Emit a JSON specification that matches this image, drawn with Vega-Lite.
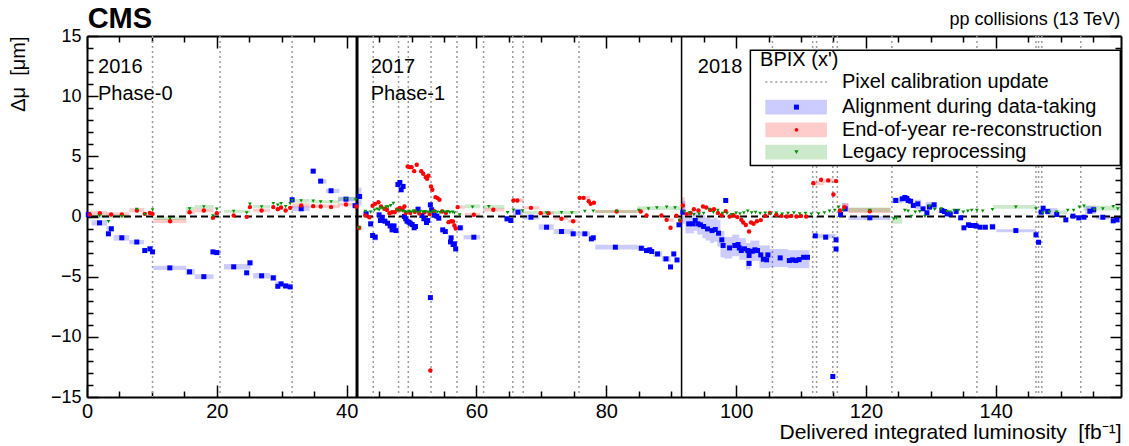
{
"$schema":"https://vega.github.io/schema/vega-lite/v6.json",
"width":1034,"height":361,
"autosize":{"type":"none"},
"padding":{"left":87,"top":36,"right":8,"bottom":49},
"background":"white",
"config":{"view":{"stroke":null},"font":"Liberation Sans","axis":{"grid":false,"domainColor":"black","tickColor":"black","labelColor":"black","titleColor":"black","labelFont":"Liberation Sans","titleFont":"Liberation Sans"}},
"datasets":{
"calib":[{"x":10.1},{"x":20.5},{"x":31.6},{"x":44.1},{"x":48.0},{"x":49.5},{"x":53.0},{"x":57.0},{"x":61.1},{"x":65.6},{"x":67.2},{"x":75.8},{"x":105.6},{"x":111.8},{"x":112.4},{"x":114.9},{"x":115.6},{"x":124.0},{"x":137.1},{"x":146.2},{"x":146.6},{"x":147.1},{"x":153.1}],
"box":[
{"s":"A","x1":0.7,"x2":3.1,"lo":-0.75,"hi":-0.3},{"s":"A","x1":3.0,"x2":4.1,"lo":-1.25,"hi":-0.8},{"s":"A","x1":4.1,"x2":6.5,"lo":-2.0,"hi":-1.55},{"s":"A","x1":6.5,"x2":8.8,"lo":-2.3,"hi":-1.95},{"s":"A","x1":9.3,"x2":10.1,"lo":-2.9,"hi":-2.45},{"s":"A","x1":10.25,"x2":15.3,"lo":-4.45,"hi":-4.1},{"s":"A","x1":15.2,"x2":16.6,"lo":-4.85,"hi":-4.35},{"s":"A","x1":16.6,"x2":19.5,"lo":-5.2,"hi":-4.8},{"s":"A","x1":19.2,"x2":20.6,"lo":-3.2,"hi":-2.8},{"s":"A","x1":21.1,"x2":25.2,"lo":-4.4,"hi":-3.95},{"s":"A","x1":24.8,"x2":25.6,"lo":-4.05,"hi":-3.65},{"s":"A","x1":25.6,"x2":28.2,"lo":-5.15,"hi":-4.7},{"s":"A","x1":28.2,"x2":29.2,"lo":-5.35,"hi":-4.85},{"s":"A","x1":29.0,"x2":30.3,"lo":-5.9,"hi":-5.4},{"s":"A","x1":30.2,"x2":31.3,"lo":-6.0,"hi":-5.55},{"s":"A","x1":31.6,"x2":34.3,"lo":0.45,"hi":0.85},{"s":"A","x1":34.4,"x2":35.3,"lo":3.6,"hi":3.95},{"s":"A","x1":35.7,"x2":36.9,"lo":2.75,"hi":3.1},{"s":"A","x1":36.8,"x2":38.9,"lo":1.95,"hi":2.3},{"s":"A","x1":38.7,"x2":41.4,"lo":1.25,"hi":1.65},
{"s":"A","x1":41.5,"x2":42.3,"lo":0.9,"hi":2.4},{"s":"A","x1":42.6,"x2":43.4,"lo":0.0,"hi":0.5},{"s":"A","x1":43.4,"x2":43.9,"lo":-0.9,"hi":-0.4},{"s":"A","x1":43.9,"x2":44.8,"lo":-2.0,"hi":-1.45},{"s":"A","x1":57.1,"x2":58.0,"lo":-1.1,"hi":-0.75},{"s":"A","x1":58.0,"x2":60.6,"lo":-1.9,"hi":-1.55},{"s":"A","x1":64.4,"x2":65.6,"lo":-0.45,"hi":0.0},{"s":"A","x1":65.6,"x2":67.1,"lo":0.1,"hi":0.65},{"s":"A","x1":67.1,"x2":69.7,"lo":-0.25,"hi":0.15},{"s":"A","x1":69.6,"x2":71.9,"lo":-1.1,"hi":-0.65},{"s":"A","x1":71.9,"x2":75.0,"lo":-1.45,"hi":-1.05},{"s":"A","x1":75.0,"x2":77.5,"lo":-1.6,"hi":-1.25},{"s":"A","x1":78.3,"x2":84.8,"lo":-2.75,"hi":-2.35},{"s":"A","x1":84.8,"x2":85.9,"lo":-2.85,"hi":-2.4},{"s":"A","x1":87.2,"x2":88.6,"lo":-3.35,"hi":-2.9},{"s":"A","x1":88.6,"x2":89.9,"lo":-3.75,"hi":-3.3},{"s":"A","x1":90.2,"x2":90.7,"lo":-3.35,"hi":-2.9},
{"s":"A","x1":91.6,"x2":92.2,"lo":-0.6,"hi":1.3},{"s":"A","x1":92.2,"x2":93.0,"lo":-1.4,"hi":0.1},{"s":"A","x1":93.0,"x2":93.5,"lo":-1.4,"hi":0.1},{"s":"A","x1":93.5,"x2":94.0,"lo":-1.2,"hi":0.4},{"s":"A","x1":94.0,"x2":94.8,"lo":-1.5,"hi":0.2},{"s":"A","x1":94.8,"x2":95.3,"lo":-1.8,"hi":0.1},{"s":"A","x1":95.3,"x2":96.0,"lo":-2.0,"hi":-0.1},{"s":"A","x1":96.0,"x2":96.6,"lo":-2.2,"hi":-0.2},{"s":"A","x1":96.6,"x2":97.1,"lo":-2.1,"hi":-0.1},{"s":"A","x1":97.1,"x2":97.6,"lo":-2.5,"hi":-0.3},{"s":"A","x1":97.6,"x2":98.2,"lo":-3.4,"hi":-1.2},{"s":"A","x1":98.2,"x2":99.4,"lo":-3.5,"hi":-1.7},{"s":"A","x1":99.4,"x2":100.5,"lo":-3.3,"hi":-1.5},{"s":"A","x1":100.5,"x2":101.5,"lo":-3.6,"hi":-1.8},{"s":"A","x1":101.5,"x2":102.2,"lo":-4.4,"hi":-2.2},{"s":"A","x1":102.2,"x2":103.6,"lo":-3.7,"hi":-2.0},{"s":"A","x1":103.6,"x2":105.2,"lo":-4.3,"hi":-2.4},{"s":"A","x1":105.2,"x2":108.0,"lo":-4.2,"hi":-2.7},{"s":"A","x1":108.0,"x2":111.3,"lo":-4.3,"hi":-2.8},{"s":"A","x1":112.0,"x2":115.3,"lo":-1.8,"hi":-1.45},{"s":"A","x1":116.3,"x2":117.3,"lo":0.4,"hi":1.1},{"s":"A","x1":117.3,"x2":123.8,"lo":-0.3,"hi":0.05},{"s":"A","x1":124.0,"x2":125.6,"lo":1.1,"hi":1.6},{"s":"A","x1":127.5,"x2":128.5,"lo":0.6,"hi":1.4},{"s":"A","x1":129.2,"x2":131.0,"lo":0.6,"hi":1.2},{"s":"A","x1":139.0,"x2":140.0,"lo":-1.1,"hi":-0.6},{"s":"A","x1":140.1,"x2":146.2,"lo":-1.3,"hi":-1.05},{"s":"A","x1":147.8,"x2":149.5,"lo":0.1,"hi":0.7},{"s":"A","x1":153.8,"x2":155.4,"lo":0.2,"hi":0.9},{"s":"A","x1":155.4,"x2":157.5,"lo":-0.25,"hi":0.1},
{"s":"E","x1":0.3,"x2":3.1,"lo":0.05,"hi":0.45},{"s":"E","x1":3.0,"x2":6.5,"lo":0.0,"hi":0.35},{"s":"E","x1":6.5,"x2":8.8,"lo":0.35,"hi":0.7},{"s":"E","x1":10.25,"x2":15.3,"lo":-0.55,"hi":-0.2},{"s":"E","x1":15.2,"x2":16.6,"lo":0.2,"hi":0.5},{"s":"E","x1":16.6,"x2":19.5,"lo":0.35,"hi":0.65},{"s":"E","x1":25.6,"x2":28.2,"lo":0.35,"hi":0.65},{"s":"E","x1":31.6,"x2":34.3,"lo":0.75,"hi":1.1},{"s":"E","x1":34.4,"x2":38.9,"lo":0.7,"hi":1.0},{"s":"E","x1":38.7,"x2":41.4,"lo":0.85,"hi":1.15},{"s":"E","x1":41.5,"x2":42.3,"lo":-1.15,"hi":-0.75},
{"s":"E","x1":56.9,"x2":58.2,"lo":0.64,"hi":0.92},{"s":"E","x1":58.2,"x2":60.6,"lo":0.0,"hi":0.3},{"s":"E","x1":61.0,"x2":64.3,"lo":0.42,"hi":0.7},{"s":"E","x1":65.6,"x2":67.3,"lo":1.2,"hi":1.5},{"s":"E","x1":67.3,"x2":69.7,"lo":0.6,"hi":0.85},{"s":"E","x1":69.7,"x2":71.9,"lo":0.15,"hi":0.4},{"s":"E","x1":71.9,"x2":74.1,"lo":-0.3,"hi":-0.05},{"s":"E","x1":74.1,"x2":75.6,"lo":-0.5,"hi":-0.25},{"s":"E","x1":75.6,"x2":77.5,"lo":1.4,"hi":1.7},{"s":"E","x1":78.3,"x2":84.8,"lo":0.3,"hi":0.55},{"s":"E","x1":84.8,"x2":85.9,"lo":0.3,"hi":0.55},{"s":"E","x1":89.6,"x2":90.4,"lo":-0.45,"hi":-0.15},
{"s":"E","x1":91.6,"x2":92.1,"lo":0.25,"hi":1.6},{"s":"E","x1":111.8,"x2":113.5,"lo":2.6,"hi":3.0},{"s":"E","x1":113.5,"x2":115.4,"lo":2.8,"hi":3.15},{"s":"E","x1":116.3,"x2":117.3,"lo":0.4,"hi":1.1},{"s":"E","x1":117.3,"x2":123.8,"lo":0.3,"hi":0.7},
{"s":"L","x1":0.7,"x2":6.5,"lo":-0.15,"hi":0.15},{"s":"L","x1":10.25,"x2":15.3,"lo":-0.3,"hi":0.0},{"s":"L","x1":15.2,"x2":16.6,"lo":0.5,"hi":0.8},{"s":"L","x1":16.6,"x2":19.5,"lo":0.65,"hi":0.95},{"s":"L","x1":21.1,"x2":25.2,"lo":0.3,"hi":0.55},{"s":"L","x1":25.6,"x2":28.2,"lo":0.7,"hi":0.95},{"s":"L","x1":31.6,"x2":34.3,"lo":1.15,"hi":1.45},{"s":"L","x1":34.4,"x2":38.9,"lo":1.1,"hi":1.35},{"s":"L","x1":38.7,"x2":41.4,"lo":1.3,"hi":1.6},{"s":"L","x1":41.5,"x2":42.3,"lo":-1.15,"hi":-0.75},
{"s":"L","x1":58.2,"x2":60.6,"lo":0.7,"hi":1.0},{"s":"L","x1":61.0,"x2":64.3,"lo":0.65,"hi":0.95},{"s":"L","x1":67.3,"x2":75.6,"lo":0.2,"hi":0.45},{"s":"L","x1":78.3,"x2":84.8,"lo":0.3,"hi":0.55},{"s":"L","x1":84.8,"x2":91.4,"lo":0.55,"hi":0.85},
{"s":"L","x1":117.3,"x2":123.8,"lo":0.35,"hi":0.75},{"s":"L","x1":124.0,"x2":125.6,"lo":-0.6,"hi":0.0},{"s":"L","x1":139.6,"x2":146.2,"lo":0.65,"hi":0.95},{"s":"L","x1":149.0,"x2":151.0,"lo":0.2,"hi":0.5},{"s":"L","x1":153.5,"x2":159.3,"lo":0.5,"hi":0.9}
],
"pts":[
{"s":"A","x":0.2,"y":0.16},{"s":"A","x":1.93,"y":-0.53},{"s":"A","x":3.3,"y":-1.44},{"s":"A","x":3.75,"y":-1.02},{"s":"A","x":5.36,"y":-1.77},{"s":"A","x":7.67,"y":-2.12},{"s":"A","x":8.9,"y":-2.83},{"s":"A","x":9.7,"y":-2.69},{"s":"A","x":10.1,"y":-2.94},{"s":"A","x":12.76,"y":-4.27},{"s":"A","x":15.8,"y":-4.6},{"s":"A","x":18.0,"y":-5.0},{"s":"A","x":19.4,"y":-2.94},{"s":"A","x":20.0,"y":-3.0},{"s":"A","x":22.6,"y":-4.18},{"s":"A","x":24.6,"y":-4.68},{"s":"A","x":25.1,"y":-3.85},{"s":"A","x":26.9,"y":-4.93},{"s":"A","x":28.7,"y":-5.1},{"s":"A","x":29.4,"y":-5.8},{"s":"A","x":29.9,"y":-5.6},{"s":"A","x":30.6,"y":-5.77},{"s":"A","x":31.3,"y":-5.85},{"s":"A","x":31.6,"y":1.39},{"s":"A","x":33.0,"y":0.64},{"s":"A","x":34.85,"y":3.77},{"s":"A","x":36.0,"y":2.94},{"s":"A","x":37.6,"y":2.14},{"s":"A","x":39.9,"y":1.44},{"s":"A","x":41.3,"y":0.9},
{"s":"A","x":42.0,"y":1.66},{"s":"A","x":43.0,"y":0.22},{"s":"A","x":43.7,"y":-0.61},{"s":"A","x":44.0,"y":-1.58},{"s":"A","x":44.4,"y":-1.72},{"s":"A","x":45.0,"y":0.14},{"s":"A","x":45.2,"y":-0.33},{"s":"A","x":45.5,"y":-0.06},{"s":"A","x":45.9,"y":-0.39},{"s":"A","x":46.3,"y":-0.56},{"s":"A","x":46.7,"y":-0.78},{"s":"A","x":47.0,"y":-1.11},{"s":"A","x":47.3,"y":-0.78},{"s":"A","x":47.6,"y":-1.17},{"s":"A","x":47.9,"y":2.66},{"s":"A","x":48.2,"y":2.83},{"s":"A","x":48.4,"y":2.22},{"s":"A","x":48.7,"y":2.5},{"s":"A","x":48.9,"y":0.0},{"s":"A","x":49.1,"y":-0.19},{"s":"A","x":49.3,"y":-0.39},{"s":"A","x":49.6,"y":-0.47},{"s":"A","x":49.8,"y":-0.56},{"s":"A","x":50.1,"y":-0.67},{"s":"A","x":50.4,"y":-0.94},{"s":"A","x":50.6,"y":-0.83},{"s":"A","x":51.0,"y":0.61},{"s":"A","x":51.6,"y":0.08},{"s":"A","x":51.9,"y":-0.19},{"s":"A","x":52.3,"y":-0.5},{"s":"A","x":52.5,"y":-0.33},{"s":"A","x":52.9,"y":0.97},{"s":"A","x":53.1,"y":0.56},{"s":"A","x":53.5,"y":0.14},{"s":"A","x":53.9,"y":0.03},{"s":"A","x":54.2,"y":-0.14},{"s":"A","x":54.8,"y":-1.11},{"s":"A","x":55.2,"y":-1.25},{"s":"A","x":56.0,"y":-2.11},{"s":"A","x":56.1,"y":-1.77},{"s":"A","x":56.4,"y":-2.33},{"s":"A","x":56.6,"y":-2.27},{"s":"A","x":56.8,"y":-2.69},{"s":"A","x":57.5,"y":-0.94},{"s":"A","x":59.6,"y":-1.72},{"s":"A","x":64.7,"y":-0.19},{"s":"A","x":65.3,"y":-0.33},{"s":"A","x":66.4,"y":0.36},{"s":"A","x":68.4,"y":-0.06},{"s":"A","x":70.8,"y":-0.89},{"s":"A","x":73.1,"y":-1.25},{"s":"A","x":74.9,"y":-1.44},{"s":"A","x":76.7,"y":-1.44},{"s":"A","x":77.7,"y":-1.86},{"s":"A","x":78.0,"y":-1.77},{"s":"A","x":81.4,"y":-2.55},{"s":"A","x":85.4,"y":-2.64},{"s":"A","x":86.2,"y":-2.83},{"s":"A","x":86.7,"y":-2.77},{"s":"A","x":87.0,"y":-2.91},{"s":"A","x":87.9,"y":-3.11},{"s":"A","x":89.2,"y":-3.52},{"s":"A","x":89.9,"y":-4.19},{"s":"A","x":90.4,"y":-3.11},{"s":"A","x":90.9,"y":-3.61},{"s":"A","x":91.2,"y":-0.69},{"s":"A","x":52.9,"y":-6.74},
{"s":"A","x":91.8,"y":0.36},{"s":"A","x":92.7,"y":-0.61},{"s":"A","x":93.3,"y":-0.61},{"s":"A","x":93.7,"y":-0.33},{"s":"A","x":94.1,"y":-0.61},{"s":"A","x":94.5,"y":-0.69},{"s":"A","x":95.0,"y":-0.83},{"s":"A","x":95.6,"y":-1.03},{"s":"A","x":96.3,"y":-1.17},{"s":"A","x":96.8,"y":-1.08},{"s":"A","x":97.3,"y":-1.39},{"s":"A","x":97.8,"y":-1.94},{"s":"A","x":98.0,"y":-2.41},{"s":"A","x":98.4,"y":1.33},{"s":"A","x":99.0,"y":-2.61},{"s":"A","x":99.8,"y":-2.41},{"s":"A","x":100.3,"y":-2.33},{"s":"A","x":100.5,"y":-2.61},{"s":"A","x":100.8,"y":-2.83},{"s":"A","x":101.3,"y":-2.69},{"s":"A","x":101.8,"y":-2.83},{"s":"A","x":102.0,"y":-3.24},{"s":"A","x":102.0,"y":-3.9},{"s":"A","x":102.5,"y":-2.89},{"s":"A","x":102.9,"y":-2.77},{"s":"A","x":103.3,"y":-2.83},{"s":"A","x":103.8,"y":-3.19},{"s":"A","x":104.2,"y":-3.55},{"s":"A","x":104.7,"y":-3.6},{"s":"A","x":104.9,"y":-3.19},{"s":"A","x":106.8,"y":-3.44},{"s":"A","x":108.2,"y":-3.66},{"s":"A","x":108.7,"y":-3.6},{"s":"A","x":109.2,"y":-3.66},{"s":"A","x":109.7,"y":-3.58},{"s":"A","x":110.4,"y":-3.39},{"s":"A","x":111.0,"y":-3.39},{"s":"A","x":112.2,"y":-1.61},{"s":"A","x":113.8,"y":-1.72},{"s":"A","x":115.4,"y":-1.94},{"s":"A","x":115.4,"y":-2.7},{"s":"A","x":114.9,"y":-13.3},{"s":"A","x":116.1,"y":0.17},{"s":"A","x":116.8,"y":0.64},{"s":"A","x":120.6,"y":-0.11},{"s":"A","x":124.6,"y":1.33},{"s":"A","x":125.6,"y":1.47},{"s":"A","x":126.0,"y":1.58},{"s":"A","x":126.3,"y":1.5},{"s":"A","x":126.5,"y":1.33},{"s":"A","x":126.9,"y":1.27},{"s":"A","x":127.3,"y":0.92},{"s":"A","x":128.0,"y":1.05},{"s":"A","x":128.8,"y":0.64},{"s":"A","x":129.4,"y":0.31},{"s":"A","x":129.8,"y":0.78},{"s":"A","x":130.5,"y":0.97},{"s":"A","x":131.7,"y":0.5},{"s":"A","x":132.1,"y":0.42},{"s":"A","x":132.5,"y":0.22},{"s":"A","x":133.0,"y":0.2},{"s":"A","x":133.9,"y":0.42},{"s":"A","x":134.6,"y":-0.11},{"s":"A","x":135.1,"y":-0.94},{"s":"A","x":135.8,"y":-0.69},{"s":"A","x":136.1,"y":-0.75},{"s":"A","x":136.8,"y":-0.75},{"s":"A","x":137.0,"y":-0.8},{"s":"A","x":137.6,"y":-0.89},{"s":"A","x":138.4,"y":-0.89},{"s":"A","x":139.5,"y":-0.86},{"s":"A","x":143.1,"y":-1.17},{"s":"A","x":146.2,"y":-1.52},{"s":"A","x":146.6,"y":-2.14},{"s":"A","x":147.0,"y":0.36},{"s":"A","x":147.3,"y":0.69},{"s":"A","x":148.0,"y":0.42},{"s":"A","x":149.4,"y":0.17},{"s":"A","x":150.8,"y":-0.28},{"s":"A","x":151.9,"y":0.03},{"s":"A","x":152.8,"y":-0.11},{"s":"A","x":153.6,"y":-0.06},{"s":"A","x":154.5,"y":0.44},{"s":"A","x":155.1,"y":0.56},{"s":"A","x":156.5,"y":-0.06},{"s":"A","x":158.1,"y":-0.36},{"s":"A","x":158.7,"y":-0.28},
{"s":"E","x":0.43,"y":0.17},{"s":"E","x":1.98,"y":0.28},{"s":"E","x":3.72,"y":0.17},{"s":"E","x":5.37,"y":0.17},{"s":"E","x":7.68,"y":0.5},{"s":"E","x":8.9,"y":0.22},{"s":"E","x":9.68,"y":0.3},{"s":"E","x":10.1,"y":0.22},{"s":"E","x":12.8,"y":-0.39},{"s":"E","x":15.8,"y":0.36},{"s":"E","x":18.0,"y":0.5},{"s":"E","x":19.4,"y":-0.11},{"s":"E","x":20.0,"y":0.28},{"s":"E","x":22.6,"y":0.08},{"s":"E","x":24.6,"y":-0.03},{"s":"E","x":25.1,"y":0.78},{"s":"E","x":26.9,"y":0.5},{"s":"E","x":28.7,"y":0.78},{"s":"E","x":29.4,"y":0.61},{"s":"E","x":29.9,"y":0.75},{"s":"E","x":30.6,"y":0.5},{"s":"E","x":31.3,"y":0.72},{"s":"E","x":33.0,"y":0.92},{"s":"E","x":34.85,"y":0.86},{"s":"E","x":36.0,"y":0.83},{"s":"E","x":37.6,"y":0.78},{"s":"E","x":39.9,"y":1.0},{"s":"E","x":41.5,"y":0.83},{"s":"E","x":41.9,"y":-0.94},
{"s":"E","x":42.9,"y":0.08},{"s":"E","x":43.5,"y":-0.06},{"s":"E","x":44.0,"y":0.9},{"s":"E","x":44.4,"y":1.05},{"s":"E","x":44.9,"y":1.19},{"s":"E","x":45.3,"y":0.83},{"s":"E","x":45.8,"y":0.64},{"s":"E","x":46.2,"y":0.56},{"s":"E","x":46.6,"y":0.28},{"s":"E","x":47.0,"y":0.36},{"s":"E","x":47.4,"y":0.36},{"s":"E","x":47.8,"y":0.58},{"s":"E","x":48.2,"y":0.7},{"s":"E","x":48.6,"y":0.58},{"s":"E","x":48.9,"y":0.83},{"s":"E","x":49.1,"y":0.3},{"s":"E","x":49.4,"y":4.16},{"s":"E","x":49.7,"y":4.1},{"s":"E","x":50.0,"y":4.1},{"s":"E","x":50.4,"y":3.77},{"s":"E","x":50.8,"y":4.3},{"s":"E","x":51.5,"y":3.77},{"s":"E","x":51.8,"y":3.55},{"s":"E","x":52.2,"y":3.27},{"s":"E","x":52.4,"y":3.14},{"s":"E","x":52.6,"y":3.39},{"s":"E","x":53.0,"y":2.5},{"s":"E","x":53.2,"y":2.22},{"s":"E","x":53.7,"y":1.61},{"s":"E","x":54.0,"y":1.53},{"s":"E","x":54.3,"y":1.39},{"s":"E","x":49.8,"y":0.3},{"s":"E","x":50.5,"y":0.4},{"s":"E","x":51.2,"y":0.25},{"s":"E","x":52.0,"y":0.35},{"s":"E","x":52.8,"y":0.2},{"s":"E","x":53.5,"y":0.45},{"s":"E","x":54.7,"y":0.42},{"s":"E","x":55.3,"y":0.3},{"s":"E","x":55.7,"y":-0.47},{"s":"E","x":56.1,"y":-0.39},{"s":"E","x":56.4,"y":-0.42},{"s":"E","x":56.6,"y":-0.75},{"s":"E","x":56.8,"y":-1.0},{"s":"E","x":52.9,"y":-12.8},{"s":"E","x":57.1,"y":0.78},{"s":"E","x":59.6,"y":0.14},{"s":"E","x":62.6,"y":0.56},{"s":"E","x":65.7,"y":1.33},{"s":"E","x":66.3,"y":1.33},{"s":"E","x":68.4,"y":0.72},{"s":"E","x":69.9,"y":0.28},{"s":"E","x":71.1,"y":0.28},{"s":"E","x":73.1,"y":-0.19},{"s":"E","x":74.9,"y":-0.39},{"s":"E","x":75.9,"y":1.55},{"s":"E","x":76.5,"y":1.55},{"s":"E","x":77.3,"y":1.27},{"s":"E","x":77.6,"y":1.05},{"s":"E","x":78.1,"y":1.14},{"s":"E","x":81.6,"y":0.42},{"s":"E","x":85.3,"y":0.42},{"s":"E","x":86.2,"y":0.08},{"s":"E","x":88.5,"y":0.08},{"s":"E","x":89.3,"y":-0.28},{"s":"E","x":89.9,"y":-0.94},{"s":"E","x":90.8,"y":0.06},{"s":"E","x":91.4,"y":-0.33},
{"s":"E","x":91.8,"y":0.92},{"s":"E","x":92.4,"y":0.2},{"s":"E","x":93.0,"y":0.3},{"s":"E","x":93.5,"y":0.6},{"s":"E","x":94.2,"y":0.5},{"s":"E","x":94.9,"y":0.83},{"s":"E","x":95.4,"y":0.75},{"s":"E","x":96.0,"y":0.55},{"s":"E","x":96.6,"y":0.6},{"s":"E","x":97.2,"y":0.3},{"s":"E","x":97.8,"y":0.1},{"s":"E","x":98.4,"y":0.45},{"s":"E","x":99.0,"y":0.0},{"s":"E","x":99.6,"y":0.1},{"s":"E","x":100.2,"y":-0.05},{"s":"E","x":100.8,"y":-0.28},{"s":"E","x":101.1,"y":-0.5},{"s":"E","x":101.5,"y":-0.7},{"s":"E","x":102.0,"y":-1.25},{"s":"E","x":102.3,"y":-0.5},{"s":"E","x":102.7,"y":-0.6},{"s":"E","x":103.2,"y":-0.4},{"s":"E","x":103.8,"y":-0.3},{"s":"E","x":104.5,"y":0.05},{"s":"E","x":105.2,"y":0.3},{"s":"E","x":106.2,"y":0.15},{"s":"E","x":107.0,"y":0.05},{"s":"E","x":107.8,"y":0.0},{"s":"E","x":108.5,"y":0.05},{"s":"E","x":109.3,"y":0.0},{"s":"E","x":110.0,"y":0.05},{"s":"E","x":110.8,"y":0.0},{"s":"E","x":111.9,"y":2.77},{"s":"E","x":113.1,"y":3.05},{"s":"E","x":114.2,"y":3.0},{"s":"E","x":115.4,"y":2.94},{"s":"E","x":115.0,"y":1.83},{"s":"E","x":116.0,"y":0.5},{"s":"E","x":116.7,"y":0.78},{"s":"E","x":120.6,"y":0.44},
{"s":"L","x":1.93,"y":0.06},{"s":"L","x":3.3,"y":-0.42},{"s":"L","x":5.36,"y":0.0},{"s":"L","x":7.67,"y":0.6},{"s":"L","x":8.9,"y":0.17},{"s":"L","x":10.1,"y":0.56},{"s":"L","x":12.8,"y":-0.17},{"s":"L","x":15.8,"y":0.64},{"s":"L","x":18.0,"y":0.81},{"s":"L","x":19.4,"y":0.06},{"s":"L","x":20.0,"y":0.61},{"s":"L","x":22.6,"y":0.42},{"s":"L","x":24.6,"y":0.31},{"s":"L","x":25.1,"y":1.02},{"s":"L","x":26.9,"y":0.81},{"s":"L","x":28.7,"y":1.08},{"s":"L","x":29.4,"y":0.94},{"s":"L","x":29.9,"y":1.06},{"s":"L","x":30.6,"y":0.83},{"s":"L","x":31.3,"y":1.06},{"s":"L","x":31.6,"y":1.33},{"s":"L","x":33.0,"y":1.3},{"s":"L","x":34.85,"y":1.27},{"s":"L","x":36.0,"y":1.22},{"s":"L","x":37.6,"y":1.22},{"s":"L","x":39.9,"y":1.44},{"s":"L","x":41.4,"y":1.39},
{"s":"L","x":41.9,"y":-0.94},{"s":"L","x":42.9,"y":0.42},{"s":"L","x":43.7,"y":0.36},{"s":"L","x":44.3,"y":0.53},{"s":"L","x":44.7,"y":0.61},{"s":"L","x":45.0,"y":0.56},{"s":"L","x":45.3,"y":0.72},{"s":"L","x":45.7,"y":0.64},{"s":"L","x":46.1,"y":0.8},{"s":"L","x":46.4,"y":0.8},{"s":"L","x":46.8,"y":0.9},{"s":"L","x":47.2,"y":1.1},{"s":"L","x":47.8,"y":0.53},{"s":"L","x":48.2,"y":0.45},{"s":"L","x":48.6,"y":0.45},{"s":"L","x":48.9,"y":0.4},{"s":"L","x":49.3,"y":0.36},{"s":"L","x":49.6,"y":0.42},{"s":"L","x":50.0,"y":0.36},{"s":"L","x":50.3,"y":0.44},{"s":"L","x":50.6,"y":0.42},{"s":"L","x":51.0,"y":0.33},{"s":"L","x":51.4,"y":0.42},{"s":"L","x":51.8,"y":0.36},{"s":"L","x":52.1,"y":0.4},{"s":"L","x":52.5,"y":0.36},{"s":"L","x":52.9,"y":0.33},{"s":"L","x":53.3,"y":0.42},{"s":"L","x":53.6,"y":0.4},{"s":"L","x":54.0,"y":0.36},{"s":"L","x":54.4,"y":0.33},{"s":"L","x":54.8,"y":0.42},{"s":"L","x":55.2,"y":0.36},{"s":"L","x":55.6,"y":0.4},{"s":"L","x":55.9,"y":0.33},{"s":"L","x":56.3,"y":0.36},{"s":"L","x":56.6,"y":0.3},{"s":"L","x":57.4,"y":0.14},{"s":"L","x":59.4,"y":0.78},{"s":"L","x":61.9,"y":0.83},{"s":"L","x":64.8,"y":0.33},{"s":"L","x":65.7,"y":0.53},{"s":"L","x":67.1,"y":0.47},{"s":"L","x":70.8,"y":0.3},{"s":"L","x":73.1,"y":0.33},{"s":"L","x":74.7,"y":0.3},{"s":"L","x":76.7,"y":0.42},{"s":"L","x":78.0,"y":0.44},{"s":"L","x":81.6,"y":0.42},{"s":"L","x":85.0,"y":0.5},{"s":"L","x":86.5,"y":0.64},{"s":"L","x":87.8,"y":0.72},{"s":"L","x":89.3,"y":0.78},{"s":"L","x":90.6,"y":0.72},{"s":"L","x":91.3,"y":-0.33},
{"s":"L","x":92.0,"y":0.4},{"s":"L","x":92.8,"y":0.3},{"s":"L","x":93.5,"y":0.15},{"s":"L","x":94.3,"y":0.2},{"s":"L","x":95.0,"y":0.25},{"s":"L","x":95.8,"y":0.6},{"s":"L","x":96.5,"y":0.35},{"s":"L","x":97.2,"y":0.5},{"s":"L","x":97.9,"y":0.25},{"s":"L","x":98.6,"y":0.25},{"s":"L","x":99.3,"y":0.15},{"s":"L","x":100.0,"y":0.28},{"s":"L","x":100.6,"y":0.22},{"s":"L","x":101.2,"y":0.3},{"s":"L","x":101.8,"y":0.45},{"s":"L","x":102.4,"y":0.3},{"s":"L","x":103.0,"y":0.35},{"s":"L","x":103.7,"y":0.25},{"s":"L","x":104.5,"y":0.28},{"s":"L","x":105.3,"y":0.22},{"s":"L","x":106.2,"y":0.28},{"s":"L","x":107.1,"y":0.2},{"s":"L","x":108.0,"y":0.25},{"s":"L","x":108.9,"y":0.3},{"s":"L","x":109.8,"y":0.22},{"s":"L","x":110.7,"y":0.25},{"s":"L","x":111.6,"y":0.2},{"s":"L","x":112.7,"y":0.22},{"s":"L","x":113.6,"y":0.3},{"s":"L","x":114.4,"y":0.45},{"s":"L","x":115.2,"y":0.5},{"s":"L","x":115.8,"y":0.78},{"s":"L","x":116.5,"y":0.5},{"s":"L","x":120.6,"y":0.5},{"s":"L","x":124.3,"y":-0.19},{"s":"L","x":124.7,"y":-0.14},{"s":"L","x":126.0,"y":0.5},{"s":"L","x":126.5,"y":0.45},{"s":"L","x":127.0,"y":0.02},{"s":"L","x":127.6,"y":0.36},{"s":"L","x":128.3,"y":0.4},{"s":"L","x":129.1,"y":0.02},{"s":"L","x":129.8,"y":0.86},{"s":"L","x":130.6,"y":0.6},{"s":"L","x":131.6,"y":0.64},{"s":"L","x":132.5,"y":0.42},{"s":"L","x":133.0,"y":0.36},{"s":"L","x":133.6,"y":0.5},{"s":"L","x":134.3,"y":0.5},{"s":"L","x":135.0,"y":0.36},{"s":"L","x":135.7,"y":0.45},{"s":"L","x":136.3,"y":0.5},{"s":"L","x":137.1,"y":0.5},{"s":"L","x":138.0,"y":0.45},{"s":"L","x":139.5,"y":0.58},{"s":"L","x":143.1,"y":0.78},{"s":"L","x":146.2,"y":0.64},{"s":"L","x":147.3,"y":0.3},{"s":"L","x":148.3,"y":0.36},{"s":"L","x":149.4,"y":0.36},{"s":"L","x":151.1,"y":0.5},{"s":"L","x":152.0,"y":0.5},{"s":"L","x":152.9,"y":0.78},{"s":"L","x":153.6,"y":0.86},{"s":"L","x":155.2,"y":0.56},{"s":"L","x":156.5,"y":0.64},{"s":"L","x":158.1,"y":0.83},{"s":"L","x":158.8,"y":0.64}
]
},
"layer":[
{
"data":{"values":[{}]},
"layer":[
{"data":{"name":"calib"},"mark":{"type":"rule","color":"#9a9a9a","strokeDash":[2,3],"strokeWidth":1.5},"encoding":{"x":{"field":"x","type":"quantitative","scale":{"domain":[0,159.3],"nice":false,"zero":false},"axis":null}}},
{"data":{"name":"box"},"mark":{"type":"rect","fillOpacity":0.2,"strokeWidth":0},"encoding":{"x":{"field":"x1","type":"quantitative","scale":{"domain":[0,159.3],"nice":false,"zero":false},"axis":null},"x2":{"field":"x2"},"y":{"field":"lo","type":"quantitative","scale":{"domain":[-15,15],"nice":false,"zero":false},"axis":null},"y2":{"field":"hi"},"color":{"field":"s","type":"nominal","scale":{"domain":["A","E","L"],"range":["#0000ff","#ff0000","#009000"]},"legend":null}}},
{"mark":{"type":"rule","color":"black","strokeDash":[7,4],"strokeWidth":2},"encoding":{"y":{"datum":0,"type":"quantitative","scale":{"domain":[-15,15],"nice":false,"zero":false},"axis":null}}},
{"mark":{"type":"rule","color":"black","strokeWidth":3},"encoding":{"x":{"datum":41.6,"type":"quantitative","scale":{"domain":[0,159.3],"nice":false,"zero":false},"axis":null}}},
{"mark":{"type":"rule","color":"black","strokeWidth":1.5},"encoding":{"x":{"datum":91.6,"type":"quantitative","scale":{"domain":[0,159.3],"nice":false,"zero":false},"axis":null}}},
{"data":{"name":"pts"},"mark":{"type":"point","filled":true,"opacity":1,"strokeWidth":0},"encoding":{"x":{"field":"x","type":"quantitative","scale":{"domain":[0,159.3],"nice":false,"zero":false},"axis":null},"y":{"field":"y","type":"quantitative","scale":{"domain":[-15,15],"nice":false,"zero":false},"axis":null},"color":{"field":"s","type":"nominal","scale":{"domain":["A","E","L"],"range":["#0000ff","#ff0000","#009000"]},"legend":null},"shape":{"field":"s","type":"nominal","scale":{"domain":["A","E","L"],"range":["square","circle","triangle-down"]},"legend":null},"size":{"field":"s","type":"nominal","scale":{"domain":["A","E","L"],"range":[25,14,18]},"legend":null}}},
{"mark":{"type":"rect","fill":"white","stroke":"black","strokeWidth":1.5},"encoding":{"x":{"datum":102.2,"type":"quantitative","scale":{"domain":[0,159.3],"nice":false,"zero":false},"axis":null},"x2":{"datum":159.2},"y":{"datum":4.24,"type":"quantitative","scale":{"domain":[-15,15],"nice":false,"zero":false},"axis":null},"y2":{"datum":13.81}}},
{"mark":{"type":"text","align":"left","baseline":"middle","fontSize":20,"color":"black"},"encoding":{"x":{"datum":103.7,"type":"quantitative","scale":{"domain":[0,159.3],"nice":false,"zero":false},"axis":null},"y":{"datum":12.98,"type":"quantitative","scale":{"domain":[-15,15],"nice":false,"zero":false},"axis":null},"text":{"value":"BPIX (x')"}}},
{"mark":{"type":"rule","color":"#9a9a9a","strokeDash":[2,3],"strokeWidth":1.5},"encoding":{"x":{"datum":104.5,"type":"quantitative","scale":{"domain":[0,159.3],"nice":false,"zero":false},"axis":null},"x2":{"datum":114.0},"y":{"datum":11.17,"type":"quantitative","scale":{"domain":[-15,15],"nice":false,"zero":false},"axis":null}}},
{"mark":{"type":"rect","fill":"#0000ff","fillOpacity":0.2},"encoding":{"x":{"datum":104.5,"type":"quantitative","scale":{"domain":[0,159.3],"nice":false,"zero":false},"axis":null},"x2":{"datum":114.0},"y":{"datum":8.47,"type":"quantitative","scale":{"domain":[-15,15],"nice":false,"zero":false},"axis":null},"y2":{"datum":9.71}}},
{"mark":{"type":"rect","fill":"#ff0000","fillOpacity":0.2},"encoding":{"x":{"datum":104.5,"type":"quantitative","scale":{"domain":[0,159.3],"nice":false,"zero":false},"axis":null},"x2":{"datum":114.0},"y":{"datum":6.58,"type":"quantitative","scale":{"domain":[-15,15],"nice":false,"zero":false},"axis":null},"y2":{"datum":7.82}}},
{"mark":{"type":"rect","fill":"#009000","fillOpacity":0.2},"encoding":{"x":{"datum":104.5,"type":"quantitative","scale":{"domain":[0,159.3],"nice":false,"zero":false},"axis":null},"x2":{"datum":114.0},"y":{"datum":4.73,"type":"quantitative","scale":{"domain":[-15,15],"nice":false,"zero":false},"axis":null},"y2":{"datum":5.97}}},
{"mark":{"type":"point","shape":"square","filled":true,"color":"#0000ff","size":25,"opacity":1},"encoding":{"x":{"datum":109.3,"type":"quantitative","scale":{"domain":[0,159.3],"nice":false,"zero":false},"axis":null},"y":{"datum":9.09,"type":"quantitative","scale":{"domain":[-15,15],"nice":false,"zero":false},"axis":null}}},
{"mark":{"type":"point","shape":"circle","filled":true,"color":"#ff0000","size":14,"opacity":1},"encoding":{"x":{"datum":109.3,"type":"quantitative","scale":{"domain":[0,159.3],"nice":false,"zero":false},"axis":null},"y":{"datum":7.2,"type":"quantitative","scale":{"domain":[-15,15],"nice":false,"zero":false},"axis":null}}},
{"mark":{"type":"point","shape":"triangle-down","filled":true,"color":"#009000","size":18,"opacity":1},"encoding":{"x":{"datum":109.3,"type":"quantitative","scale":{"domain":[0,159.3],"nice":false,"zero":false},"axis":null},"y":{"datum":5.35,"type":"quantitative","scale":{"domain":[-15,15],"nice":false,"zero":false},"axis":null}}},
{"mark":{"type":"text","align":"left","baseline":"middle","fontSize":20,"color":"black"},"encoding":{"x":{"datum":116.3,"type":"quantitative","scale":{"domain":[0,159.3],"nice":false,"zero":false},"axis":null},"y":{"datum":11.17,"type":"quantitative","scale":{"domain":[-15,15],"nice":false,"zero":false},"axis":null},"text":{"value":"Pixel calibration update"}}},
{"mark":{"type":"text","align":"left","baseline":"middle","fontSize":20,"color":"black"},"encoding":{"x":{"datum":116.3,"type":"quantitative","scale":{"domain":[0,159.3],"nice":false,"zero":false},"axis":null},"y":{"datum":9.09,"type":"quantitative","scale":{"domain":[-15,15],"nice":false,"zero":false},"axis":null},"text":{"value":"Alignment during data-taking"}}},
{"mark":{"type":"text","align":"left","baseline":"middle","fontSize":20,"color":"black"},"encoding":{"x":{"datum":116.3,"type":"quantitative","scale":{"domain":[0,159.3],"nice":false,"zero":false},"axis":null},"y":{"datum":7.2,"type":"quantitative","scale":{"domain":[-15,15],"nice":false,"zero":false},"axis":null},"text":{"value":"End-of-year re-reconstruction"}}},
{"mark":{"type":"text","align":"left","baseline":"middle","fontSize":20,"color":"black"},"encoding":{"x":{"datum":116.3,"type":"quantitative","scale":{"domain":[0,159.3],"nice":false,"zero":false},"axis":null},"y":{"datum":5.35,"type":"quantitative","scale":{"domain":[-15,15],"nice":false,"zero":false},"axis":null},"text":{"value":"Legacy reprocessing"}}},
{"mark":{"type":"text","align":"left","baseline":"alphabetic","fontSize":29,"fontWeight":"bold","color":"black"},"encoding":{"x":{"datum":0.1,"type":"quantitative","scale":{"domain":[0,159.3],"nice":false,"zero":false},"axis":null},"y":{"datum":15.64,"type":"quantitative","scale":{"domain":[-15,15],"nice":false,"zero":false},"axis":null},"text":{"value":"CMS"}}},
{"mark":{"type":"text","align":"right","baseline":"alphabetic","fontSize":18,"color":"black"},"encoding":{"x":{"datum":159.2,"type":"quantitative","scale":{"domain":[0,159.3],"nice":false,"zero":false},"axis":null},"y":{"datum":15.95,"type":"quantitative","scale":{"domain":[-15,15],"nice":false,"zero":false},"axis":null},"text":{"value":"pp collisions (13 TeV)"}}},
{"mark":{"type":"text","align":"left","baseline":"middle","fontSize":20,"color":"black"},"encoding":{"x":{"datum":1.7,"type":"quantitative","scale":{"domain":[0,159.3],"nice":false,"zero":false},"axis":null},"y":{"datum":12.43,"type":"quantitative","scale":{"domain":[-15,15],"nice":false,"zero":false},"axis":null},"text":{"value":"2016"}}},
{"mark":{"type":"text","align":"left","baseline":"middle","fontSize":20,"color":"black"},"encoding":{"x":{"datum":1.7,"type":"quantitative","scale":{"domain":[0,159.3],"nice":false,"zero":false},"axis":null},"y":{"datum":10.21,"type":"quantitative","scale":{"domain":[-15,15],"nice":false,"zero":false},"axis":null},"text":{"value":"Phase-0"}}},
{"mark":{"type":"text","align":"left","baseline":"middle","fontSize":20,"color":"black"},"encoding":{"x":{"datum":43.7,"type":"quantitative","scale":{"domain":[0,159.3],"nice":false,"zero":false},"axis":null},"y":{"datum":12.43,"type":"quantitative","scale":{"domain":[-15,15],"nice":false,"zero":false},"axis":null},"text":{"value":"2017"}}},
{"mark":{"type":"text","align":"left","baseline":"middle","fontSize":20,"color":"black"},"encoding":{"x":{"datum":43.7,"type":"quantitative","scale":{"domain":[0,159.3],"nice":false,"zero":false},"axis":null},"y":{"datum":10.21,"type":"quantitative","scale":{"domain":[-15,15],"nice":false,"zero":false},"axis":null},"text":{"value":"Phase-1"}}},
{"mark":{"type":"text","align":"left","baseline":"middle","fontSize":20,"color":"black"},"encoding":{"x":{"datum":94.1,"type":"quantitative","scale":{"domain":[0,159.3],"nice":false,"zero":false},"axis":null},"y":{"datum":12.43,"type":"quantitative","scale":{"domain":[-15,15],"nice":false,"zero":false},"axis":null},"text":{"value":"2018"}}}
]
},
{"data":{"values":[{}]},"mark":{"type":"point","opacity":0},"encoding":{
"x":{"datum":0,"type":"quantitative","scale":{"domain":[0,159.3],"nice":false,"zero":false},"axis":{"orient":"bottom","values":[0,20,40,60,80,100,120,140],"ticks":false,"domain":true,"domainWidth":2,"labelFontSize":20,"labelPadding":4,"labelFlush":false,"labelOverlap":false,"title":"Delivered integrated luminosity\u00a0\u00a0[fb⁻¹]","titleAnchor":"end","titleFontSize":21,"titleFontWeight":"normal","titlePadding":0}},
"y":{"datum":0,"type":"quantitative","scale":{"domain":[-15,15],"nice":false,"zero":false},"axis":{"orient":"left","values":[-15,-10,-5,0,5,10,15],"ticks":false,"domain":true,"domainWidth":2,"labelFontSize":18,"labelPadding":6,"labelFlush":false,"labelOverlap":false,"title":"Δμ\u00a0\u00a0[μm]","titleAnchor":"end","titleFontSize":20,"titleFontWeight":"normal","titlePadding":22}}}},
{"data":{"values":[{}]},"mark":{"type":"point","opacity":0},"encoding":{
"x":{"datum":0,"type":"quantitative","scale":{"domain":[0,159.3],"nice":false,"zero":false},"axis":{"orient":"bottom","values":[0,20,40,60,80,100,120,140],"ticks":true,"tickSize":-12,"tickWidth":1.5,"labels":false,"domain":false,"title":null}},
"y":{"datum":0,"type":"quantitative","scale":{"domain":[-15,15],"nice":false,"zero":false},"axis":{"orient":"left","values":[-15,-10,-5,0,5,10,15],"ticks":true,"tickSize":-11,"tickWidth":1.5,"labels":false,"domain":false,"title":null}}}},
{"data":{"values":[{}]},"mark":{"type":"point","opacity":0},"encoding":{
"x":{"datum":0,"type":"quantitative","scale":{"domain":[0,159.3],"nice":false,"zero":false},"axis":{"orient":"bottom","values":[5,10,15,25,30,35,45,50,55,65,70,75,85,90,95,105,110,115,125,130,135,145,150,155],"ticks":true,"tickSize":-6,"tickWidth":1.5,"labels":false,"domain":false,"title":null}},
"y":{"datum":0,"type":"quantitative","scale":{"domain":[-15,15],"nice":false,"zero":false},"axis":{"orient":"left","values":[-14,-13,-12,-11,-9,-8,-7,-6,-4,-3,-2,-1,1,2,3,4,6,7,8,9,11,12,13,14],"ticks":true,"tickSize":-6,"tickWidth":1.5,"labels":false,"domain":false,"title":null}}}},
{"data":{"values":[{}]},"mark":{"type":"point","opacity":0},"encoding":{
"x":{"datum":0,"type":"quantitative","scale":{"domain":[0,159.3],"nice":false,"zero":false},"axis":{"orient":"top","values":[0,20,40,60,80,100,120,140],"ticks":true,"tickSize":-12,"tickWidth":1.5,"labels":false,"domain":true,"domainWidth":2,"title":null}},
"y":{"datum":0,"type":"quantitative","scale":{"domain":[-15,15],"nice":false,"zero":false},"axis":{"orient":"right","values":[-15,-10,-5,0,5,10,15],"ticks":true,"tickSize":-11,"tickWidth":1.5,"labels":false,"domain":true,"domainWidth":2,"title":null}}}},
{"data":{"values":[{}]},"mark":{"type":"point","opacity":0},"encoding":{
"x":{"datum":0,"type":"quantitative","scale":{"domain":[0,159.3],"nice":false,"zero":false},"axis":{"orient":"top","values":[5,10,15,25,30,35,45,50,55,65,70,75,85,90,95,105,110,115,125,130,135,145,150,155],"ticks":true,"tickSize":-6,"tickWidth":1.5,"labels":false,"domain":false,"title":null}},
"y":{"datum":0,"type":"quantitative","scale":{"domain":[-15,15],"nice":false,"zero":false},"axis":{"orient":"right","values":[-14,-13,-12,-11,-9,-8,-7,-6,-4,-3,-2,-1,1,2,3,4,6,7,8,9,11,12,13,14],"ticks":true,"tickSize":-6,"tickWidth":1.5,"labels":false,"domain":false,"title":null}}}}
],
"resolve":{"scale":{"x":"independent","y":"independent"}}
}
